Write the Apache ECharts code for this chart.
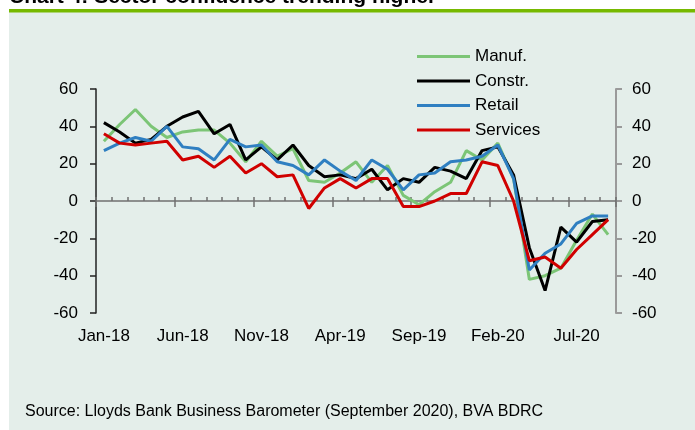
<!DOCTYPE html>
<html>
<head>
<meta charset="utf-8">
<script src="https://cdn.jsdelivr.net/npm/echarts@6/dist/echarts.min.js"></script>
<style>
html,body{margin:0;padding:0;background:#fff;}
#chart{width:695px;height:430px;}
</style>
</head>
<body>
<div id="chart"></div>
<script>
const months = ["Jan-18","Feb-18","Mar-18","Apr-18","May-18","Jun-18","Jul-18","Aug-18","Sep-18","Oct-18","Nov-18","Dec-18",
  "Jan-19","Feb-19","Mar-19","Apr-19","May-19","Jun-19","Jul-19","Aug-19","Sep-19","Oct-19","Nov-19","Dec-19",
  "Jan-20","Feb-20","Mar-20","Apr-20","May-20","Jun-20","Jul-20","Aug-20","Sep-20"];
const manuf = [32,41,49,40,34,37,38,38,31,21,32,24,28,11,10,15,21,10,19,3,-2,5,10,27,22,31,12,-42,-40,-36,-21,-7,-18];
const constr = [42,37,31,33,40,45,48,36,41,22,29,22,30,19,13,14,12,17,6,12,10,18,16,12,27,29,14,-25,-48,-14,-22,-11,-10];
const retail = [27,31,34,32,40,29,28,22,33,29,30,21,19,14,22,16,11,22,17,6,14,15,21,22,24,30,12,-37,-28,-23,-12,-8,-8];
const services = [36,31,30,31,32,22,24,18,24,15,20,13,14,-4,7,12,7,12,12,-3,-3,0,4,4,21,19,0,-32,-30,-36,-26,-18,-10];
const seriesNames = ["Manuf.","Constr.","Retail","Services"];
const yTicks = [-60,-40,-20,0,20,40,60];

const FONT = "'Liberation Sans', Arial, sans-serif";
const chart = echarts.init(document.getElementById('chart'), null, {renderer:'canvas'});
const colors = ['#7CC576','#000000','#2F7FC1','#D00000'];
const dataArr = [manuf, constr, retail, services];

const option = {
  animation:false,
  backgroundColor:'#ffffff',
  graphic:[
    {type:'rect', shape:{x:9,y:12,width:686,height:418}, style:{fill:'#E4EEEA'}, z:-10},
    {type:'rect', shape:{x:9,y:9,width:686,height:3.5}, style:{fill:'#76B900'}, z:-9},
    {type:'text', left:9, top:-13, style:{text:'Chart 4: Sector confidence trending higher', font:"bold 21px "+FONT, fill:'#000'}},
    {type:'text', left:25, top:404, style:{text:'Source: Lloyds Bank Business Barometer (September 2020), BVA BDRC', font:"16px "+FONT, fill:'#000'}}
  ],
  grid:{left:96, right:79, top:89, bottom:117, containLabel:false},
  legend:{
    orient:'vertical', left:417, top:48, padding:0, itemWidth:53, itemHeight:3, itemGap:7.5,
    icon:'rect',
    textStyle:{fontSize:17, fontFamily:FONT, color:'#000'},
    data:seriesNames
  },
  xAxis:[
    {type:'category', data:months, position:'bottom', boundaryGap:true,
     axisLine:{show:true, onZero:true, lineStyle:{color:'#707070', width:1.5}},
     axisTick:{show:true, inside:true, length:4, interval:0, lineStyle:{color:'#707070', width:1.5}},
     axisLabel:{show:false}, splitLine:{show:false}},
    {type:'category', data:months, position:'bottom', boundaryGap:true,
     axisLine:{show:false, onZero:true},
     axisTick:{show:true, inside:false, length:6, interval:4, lineStyle:{color:'#707070', width:1.5}},
     axisLabel:{show:false}, splitLine:{show:false}},
    {type:'category', data:months, position:'bottom', boundaryGap:true,
     axisLine:{show:false, onZero:false},
     axisTick:{show:false},
     axisLabel:{show:true, interval:4, margin:15, fontSize:17, fontFamily:FONT, color:'#000'},
     splitLine:{show:false}}
  ],
  yAxis:[
    {type:'value', min:yTicks[0], max:yTicks[yTicks.length-1], interval:20, position:'left',
     axisLine:{show:true, lineStyle:{color:'#222', width:1.5}},
     axisTick:{show:true, inside:false, length:6, lineStyle:{color:'#222', width:1.5}},
     axisLabel:{fontSize:17, fontFamily:FONT, color:'#000', margin:18},
     splitLine:{show:false}},
    {type:'value', min:yTicks[0], max:yTicks[yTicks.length-1], interval:20, position:'right',
     axisLine:{show:true, lineStyle:{color:'#9A9A9A', width:2}},
     axisTick:{show:true, inside:false, length:6, lineStyle:{color:'#9A9A9A', width:2}},
     axisLabel:{fontSize:17, fontFamily:FONT, color:'#000', margin:16},
     splitLine:{show:false}}
  ],
  series: seriesNames.map((n,i)=>({
    name:n, type:'line', data:dataArr[i], xAxisIndex:0, yAxisIndex:0,
    symbol:'none', lineStyle:{color:colors[i], width:3}, itemStyle:{color:colors[i]}
  }))
};
chart.setOption(option);
</script>
</body>
</html>
